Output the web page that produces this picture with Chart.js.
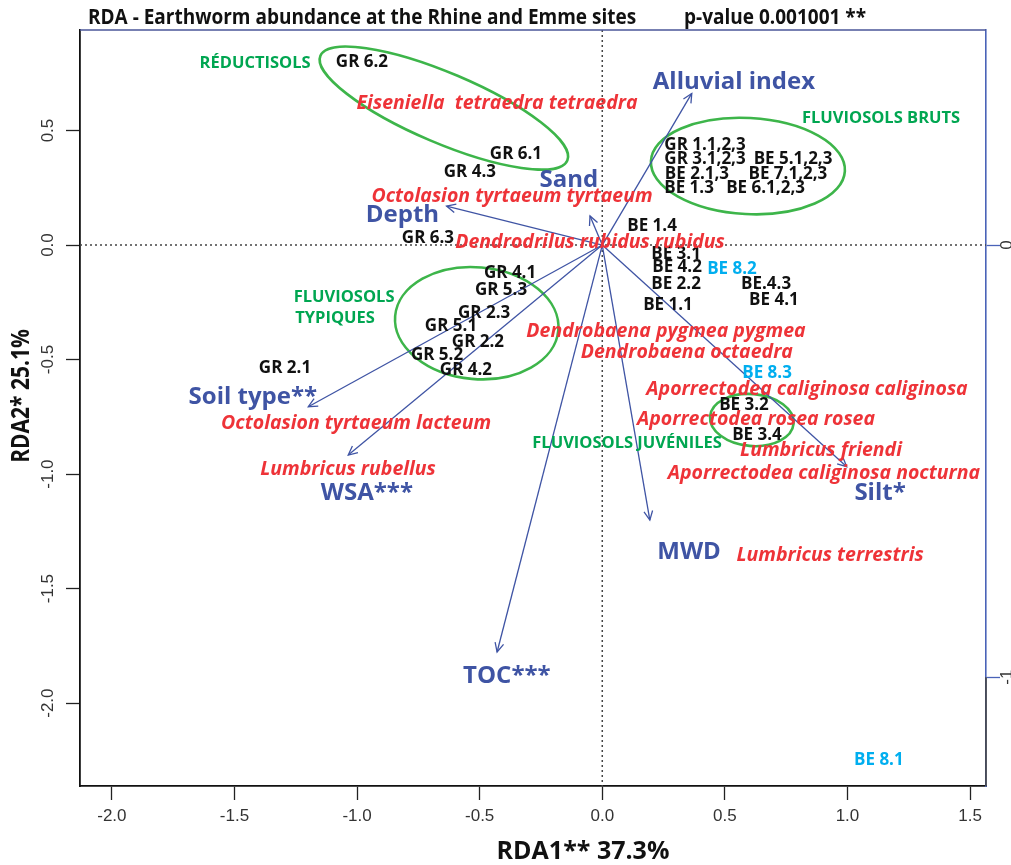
<!DOCTYPE html>
<html>
<head>
<meta charset="utf-8">
<script src="https://cdn.jsdelivr.net/npm/chart.js@4.4.1/dist/chart.umd.min.js"></script>
<style>
  html, body { margin: 0; padding: 0; background: #ffffff; }
  #wrap { width: 1011px; height: 865px; position: relative; }
  canvas { display: block; }
</style>
</head>
<body>
<div id="wrap"><canvas id="c" width="1011" height="865"></canvas></div>
<script>
// ---------------- DATA ----------------
const xRange = [-2.13, 1.565];
const yRange = [-2.362, 0.939];
const y2Range = [-1.252, 0.498];
const xTickValues = [-2.0, -1.5, -1.0, -0.5, 0.0, 0.5, 1.0, 1.5];
const yTickValues = [-2.0, -1.5, -1.0, -0.5, 0.0, 0.5];
const y2TickValues = [0, -1];

const envNames  = ["Alluvial index", "Sand", "Depth", "Soil type**", "WSA***", "TOC***", "MWD", "Silt*"];
const envArrowX = [0.365, -0.050, -0.635, -1.199, -1.036, -0.429, 0.194, 0.997];
const envArrowY = [0.662, 0.127, 0.170, -0.706, -0.917, -1.777, -1.201, -0.968];
const envLabelX = [0.537, -0.136, -0.815, -1.425, -0.960, -0.389, 0.354, 1.133];
const envLabelY = [0.712, 0.284, 0.131, -0.664, -1.083, -1.882, -1.341, -1.083];

const speciesNames = [
  "Eiseniella  tetraedra tetraedra", "Octolasion tyrtaeum tyrtaeum", "Dendrodrilus rubidus rubidus",
  "Dendrobaena pygmea pygmea", "Dendrobaena octaedra", "Aporrectodea caliginosa caliginosa",
  "Aporrectodea rosea rosea", "Lumbricus friendi", "Aporrectodea caliginosa nocturna",
  "Lumbricus terrestris", "Octolasion tyrtaeum lacteum", "Lumbricus rubellus"
];
const speciesX = [-0.429, -0.368, -0.050, 0.260, 0.345, 0.835, 0.627, 0.892, 0.904, 0.929, -1.004, -1.037];
const speciesY = [0.620, 0.214, 0.013, -0.376, -0.467, -0.629, -0.760, -0.895, -0.996, -1.354, -0.777, -0.978];

const siteNames = [
  "GR 6.2", "GR 6.1", "GR 4.3", "GR 6.3", "GR 4.1", "GR 5.3", "GR 2.3", "GR 5.1", "GR 2.2", "GR 5.2", "GR 4.2", "GR 2.1",
  "BE 1.4", "BE 3.1", "BE 4.2", "BE 2.2", "BE 1.1", "BE.4.3", "BE 4.1", "BE 3.2", "BE 3.4",
  "GR 1.1,2,3", "GR 3.1,2,3", "BE 5.1,2,3", "BE 2.1,3", "BE 7.1,2,3", "BE 1.3", "BE 6.1,2,3"
];
const siteX = [-0.980, -0.352, -0.540, -0.711, -0.376, -0.413, -0.482, -0.617, -0.507, -0.674, -0.556, -1.294,
  0.203, 0.301, 0.305, 0.301, 0.268, 0.668, 0.700, 0.578, 0.631,
  0.419, 0.419, 0.778, 0.386, 0.757, 0.354, 0.666];
const siteY = [0.799, 0.397, 0.319, 0.031, -0.122, -0.197, -0.297, -0.354, -0.424, -0.480, -0.546, -0.537,
  0.083, -0.039, -0.096, -0.170, -0.262, -0.170, -0.240, -0.699, -0.830,
  0.437, 0.376, 0.376, 0.310, 0.310, 0.249, 0.249];

const be8Names = ["BE 8.2", "BE 8.3", "BE 8.1"];
const be8X = [0.529, 0.672, 1.128];
const be8Y = [-0.105, -0.559, -2.249];

const soilNames = ["RÉDUCTISOLS", "FLUVIOSOLS BRUTS", "FLUVIOSOLS", "TYPIQUES", "FLUVIOSOLS JUVÉNILES"];
const soilX = [-1.416, 1.137, -1.053, -1.090, 0.101];
const soilY = [0.795, 0.555, -0.227, -0.319, -0.865];

// ellipses: centre (data units), semi-axes (x-axis units), rotation (degrees)
const ellipseCX = [-0.646, 0.594, -0.512, 0.610];
const ellipseCY = [0.598, 0.345, -0.341, -0.764];
const ellipseA  = [0.547, 0.396, 0.334, 0.171];
const ellipseB  = [0.143, 0.196, 0.228, 0.106];
const ellipseAngle = [23, 3, 5, 5];

// ---------------- STYLE ----------------
const BLUE = '#3F54A4';
const RED = '#EE3338';
const GREEN = '#00A651';
const ELLIPSE_GREEN = '#3DB54A';
const LIGHTBLUE = '#00AEEF';
const LABEL_FAMILY = '"Open Sans", "Noto Sans", sans-serif';
const NARROW = '"Liberation Sans Narrow", "Liberation Sans", sans-serif';

function pts(xs, ys) { return xs.map((v, i) => ({ x: v, y: ys[i] })); }

const datasets = [];
envNames.forEach((n, i) => {
  datasets.push({
    label: n, isArrow: true, showLine: true,
    data: [{ x: 0, y: 0 }, { x: envArrowX[i], y: envArrowY[i] }],
    borderColor: BLUE, borderWidth: 1.3, pointRadius: 0, pointHoverRadius: 0, fill: false
  });
});
datasets.push({ label: 'sites', data: pts(siteX, siteY), pointRadius: 0, textLabels: siteNames,
  textColor: '#111111', textFont: 'bold 17px ' + LABEL_FAMILY });
datasets.push({ label: 'be8', data: pts(be8X, be8Y), pointRadius: 0, textLabels: be8Names,
  textColor: LIGHTBLUE, textFont: 'bold 17px ' + LABEL_FAMILY });
datasets.push({ label: 'soil', data: pts(soilX, soilY), pointRadius: 0, textLabels: soilNames,
  textColor: GREEN, textFont: 'bold 16.5px ' + LABEL_FAMILY });
datasets.push({ label: 'species', data: pts(speciesX, speciesY), pointRadius: 0, textLabels: speciesNames,
  textColor: RED, textFont: 'italic bold 19.5px ' + LABEL_FAMILY });
datasets.push({ label: 'env', data: pts(envLabelX, envLabelY), pointRadius: 0, textLabels: envNames,
  textColor: BLUE, textFont: 'bold 24px ' + LABEL_FAMILY });

const decor = {
  id: 'decor',
  beforeDatasetsDraw(chart) {
    const { ctx, chartArea: a, scales: { x, y } } = chart;
    const ppu = x.getPixelForValue(1) - x.getPixelForValue(0);
    ctx.save();
    const x0 = x.getPixelForValue(0), y0 = y.getPixelForValue(0);
    ctx.strokeStyle = '#444'; ctx.lineWidth = 1.5; ctx.setLineDash([2, 3]);
    ctx.beginPath();
    ctx.moveTo(x0, a.top); ctx.lineTo(x0, a.bottom);
    ctx.moveTo(a.left, y0); ctx.lineTo(a.right, y0);
    ctx.stroke();
    ctx.setLineDash([]);
    ctx.strokeStyle = ELLIPSE_GREEN; ctx.lineWidth = 2.6;
    ellipseCX.forEach((cx, i) => {
      ctx.beginPath();
      ctx.ellipse(x.getPixelForValue(cx), y.getPixelForValue(ellipseCY[i]),
        ellipseA[i] * ppu, ellipseB[i] * ppu, ellipseAngle[i] * Math.PI / 180, 0, Math.PI * 2);
      ctx.stroke();
    });
    ctx.restore();
  },
  afterDatasetsDraw(chart) {
    const { ctx, chartArea: a, scales } = chart;
    ctx.save();
    chart.data.datasets.forEach((ds, i) => {
      const meta = chart.getDatasetMeta(i);
      if (ds.isArrow) {
        const p0 = meta.data[0], p1 = meta.data[1];
        const ang = Math.atan2(p1.y - p0.y, p1.x - p0.x);
        const L = 10, h = 0.45;
        ctx.strokeStyle = ds.borderColor; ctx.lineWidth = 1.3;
        ctx.beginPath();
        ctx.moveTo(p1.x - L * Math.cos(ang - h), p1.y - L * Math.sin(ang - h));
        ctx.lineTo(p1.x, p1.y);
        ctx.lineTo(p1.x - L * Math.cos(ang + h), p1.y - L * Math.sin(ang + h));
        ctx.stroke();
      }
    });
    chart.data.datasets.forEach((ds, i) => {
      if (!ds.textLabels) return;
      const meta = chart.getDatasetMeta(i);
      ctx.font = ds.textFont; ctx.fillStyle = ds.textColor;
      ctx.textAlign = 'center'; ctx.textBaseline = 'middle';
      meta.data.forEach((el, j) => ctx.fillText(ds.textLabels[j], el.x, el.y));
    });
    // top border and lower part of the right border
    ctx.lineWidth = 1.6;
    ctx.strokeStyle = '#4A5699';
    ctx.beginPath(); ctx.moveTo(a.left, a.top); ctx.lineTo(a.right, a.top); ctx.stroke();
    const yEnd = scales.y2.getPixelForValue(-1);
    ctx.strokeStyle = '#444';
    ctx.beginPath(); ctx.moveTo(a.right, yEnd); ctx.lineTo(a.right, a.bottom); ctx.stroke();
    ctx.restore();
  },
  afterDraw(chart) {
    const { ctx } = chart;
    ctx.save();
    ctx.fillStyle = '#111';
    ctx.textBaseline = 'middle';
    ctx.textAlign = 'left';
    ctx.font = 'bold 21px ' + LABEL_FAMILY;
    ctx.save();
    ctx.translate(88, 18); ctx.scale(0.905, 1);
    ctx.fillText('RDA - Earthworm abundance at the Rhine and Emme sites', 0, 0);
    ctx.restore();
    ctx.save();
    ctx.translate(684, 18); ctx.scale(0.905, 1);
    ctx.fillText('p-value 0.001001 **', 0, 0);
    ctx.restore();
    ctx.textAlign = 'center';
    ctx.font = 'bold 25px ' + LABEL_FAMILY;
    ctx.fillText('RDA1** 37.3%', 583, 852);
    ctx.translate(22, 396);
    ctx.rotate(-Math.PI / 2);
    ctx.scale(0.84, 1);
    ctx.fillText('RDA2* 25.1%', 0, 0);
    ctx.restore();
  }
};

const tickFont = { family: NARROW, size: 17 };

new Chart(document.getElementById('c'), {
  type: 'scatter',
  data: { datasets },
  plugins: [decor],
  options: {
    responsive: false,
    animation: false,
    events: [],
    layout: { padding: { top: 30, left: 0, right: 0, bottom: 0 } },
    plugins: { legend: { display: false }, tooltip: { enabled: false }, title: { display: false } },
    scales: {
      x: {
        type: 'linear', position: 'bottom', min: xRange[0], max: xRange[1],
        afterBuildTicks: s => { s.ticks = xTickValues.map(v => ({ value: v })); },
        afterFit: s => { s.height = 79; },
        ticks: { callback: v => Number(v).toFixed(1), font: tickFont, color: '#333', padding: 6, maxRotation: 0, autoSkip: false },
        grid: { display: true, drawOnChartArea: false, drawTicks: true, tickLength: 14, tickColor: '#222', tickWidth: 1.3 },
        border: { display: true, color: '#111', width: 1.8 }
      },
      y: {
        type: 'linear', position: 'left', min: yRange[0], max: yRange[1],
        afterBuildTicks: s => { s.ticks = yTickValues.map(v => ({ value: v })); },
        afterFit: s => { s.width = 80; },
        ticks: { callback: v => Number(v).toFixed(1), font: tickFont, color: '#333', padding: 3,
          minRotation: 90, maxRotation: 90, crossAlign: 'center', autoSkip: false },
        grid: { display: true, drawOnChartArea: false, drawTicks: true, tickLength: 14, tickColor: '#222', tickWidth: 1.3 },
        border: { display: true, color: '#111', width: 1.8 }
      },
      y2: {
        type: 'linear', position: 'right', min: y2Range[0], max: y2Range[1],
        afterBuildTicks: s => { s.ticks = y2TickValues.map(v => ({ value: v })); },
        afterFit: s => { s.width = 25; },
        ticks: { callback: v => String(v), font: tickFont, color: '#333', padding: 0,
          minRotation: 90, maxRotation: 90, crossAlign: 'center', autoSkip: false },
        grid: { display: true, drawOnChartArea: false, drawTicks: true, tickLength: 14, tickColor: '#4A63B8', tickWidth: 1.3 },
        border: { display: true, color: '#4A63B8', width: 1.6 }
      }
    }
  }
});
</script>
</body>
</html>
